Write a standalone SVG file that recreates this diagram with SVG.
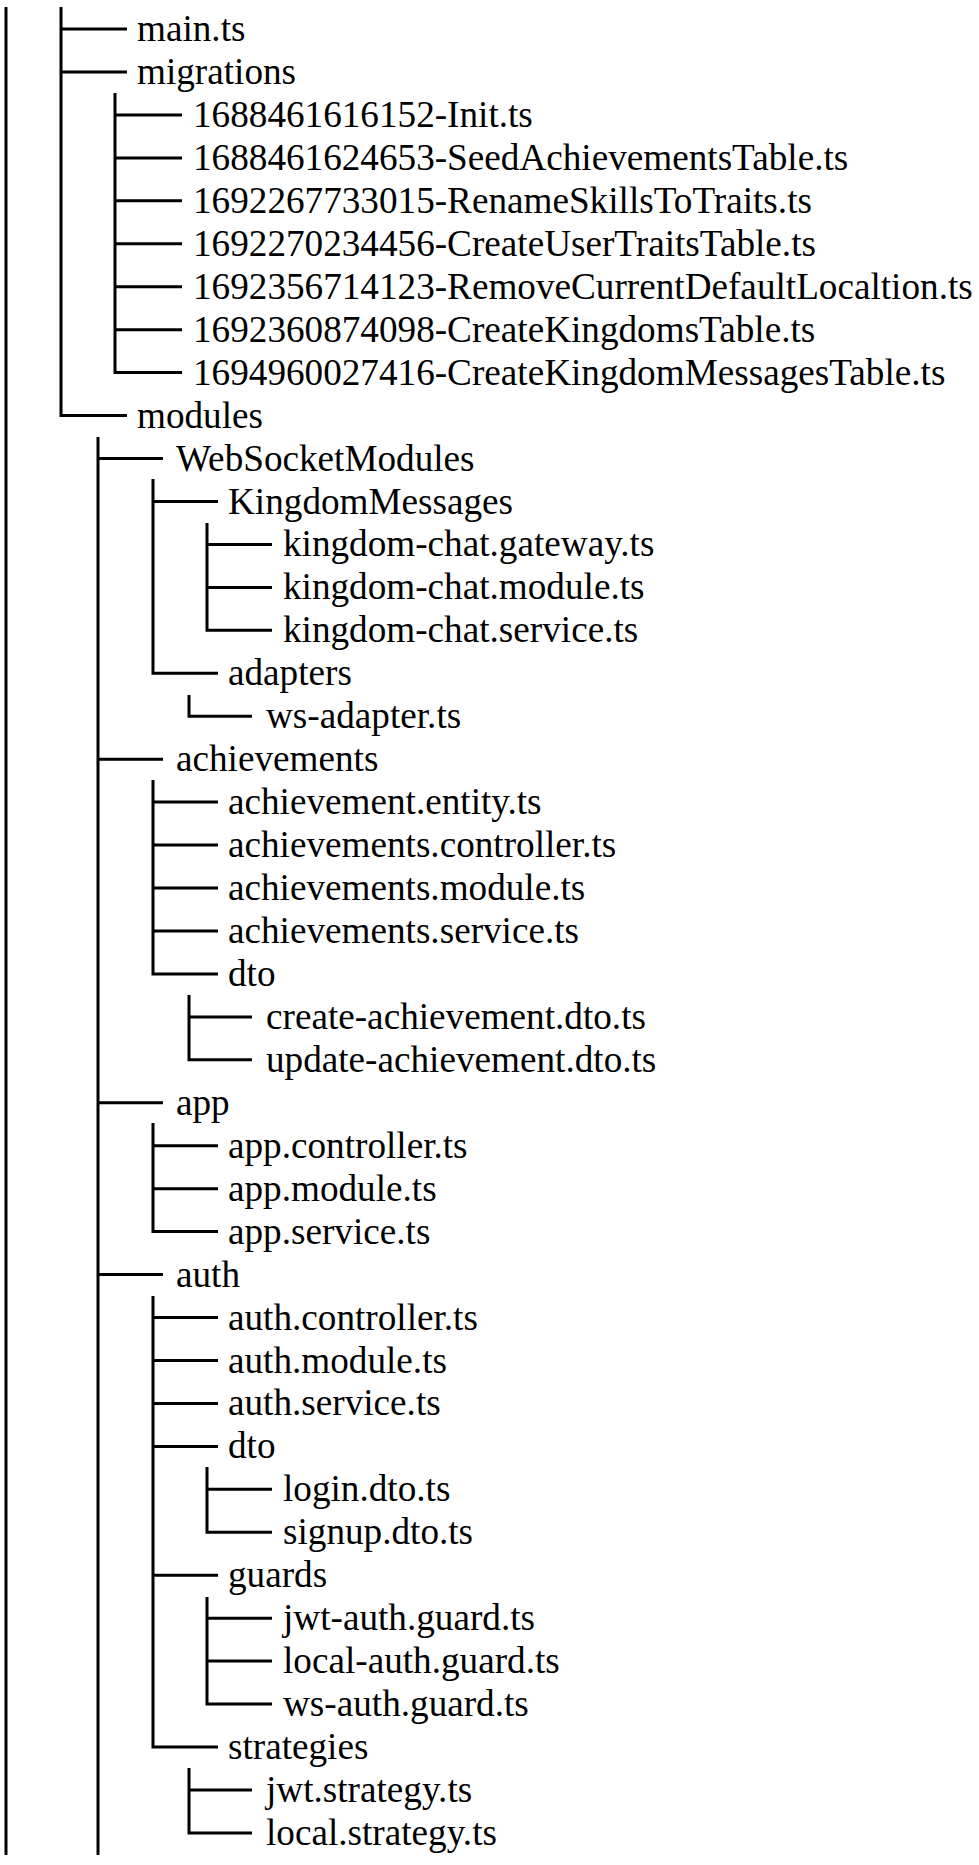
<svg xmlns="http://www.w3.org/2000/svg" width="979" height="1865" viewBox="0 0 979 1865">
  <style>
    .bg { fill: #ffffff; }
    .c { fill: none; stroke: #000000; stroke-width: 3; stroke-linejoin: miter; stroke-linecap: butt; }
    .t { font-family: 'Liberation Serif', Tinos, 'Times New Roman', Times, 'DejaVu Serif', serif; font-size: 37.2px; fill: #000000; }
  </style>
  <rect class="bg" x="0" y="0" width="979" height="1865"/>

  <!-- tree branches -->
  <g id="connectors">
    <path class="c" d="M6,7 V1855"/>
    <!-- root level -->
    <path class="c" d="M61,7 V415.5 H127 M61,29 H127 M61,72 H127"/>
    <!-- migrations -->
    <path class="c" d="M115,93 V372.6 H182 M115,114.9 H182 M115,157.9 H182 M115,200.8 H182 M115,243.8 H182 M115,286.7 H182 M115,329.7 H182"/>
    <!-- modules -->
    <path class="c" d="M98,437 V1855 M98,458.5 H163 M98,759.2 H163 M98,1102.8 H163 M98,1274.6 H163"/>
    <!-- WebSocketModules -->
    <path class="c" d="M153,479 V673.3 H218 M153,501.5 H218"/>
    <path class="c" d="M207,523 V630.3 H272 M207,544.4 H272 M207,587.4 H272"/>
    <path class="c" d="M189,695 V716.2 H252"/>
    <!-- achievements -->
    <path class="c" d="M153,780 V973.9 H218 M153,802.1 H218 M153,845.1 H218 M153,888 H218 M153,931 H218"/>
    <path class="c" d="M189,995 V1059.8 H252 M189,1016.9 H252"/>
    <!-- app -->
    <path class="c" d="M153,1123 V1231.6 H218 M153,1145.7 H218 M153,1188.7 H218"/>
    <!-- auth -->
    <path class="c" d="M153,1296 V1747 H218 M153,1317.5 H218 M153,1360.5 H218 M153,1403.4 H218 M153,1446.4 H218 M153,1575.2 H218"/>
    <path class="c" d="M207,1467 V1532.3 H272 M207,1489.3 H272"/>
    <path class="c" d="M207,1597 V1704.1 H272 M207,1618.2 H272 M207,1661.1 H272"/>
    <path class="c" d="M189,1768 V1832.9 H252 M189,1790 H252"/>
  </g>

  <g id="main-ts"><text class="t" x="137" y="41">main.ts</text></g>
  <g id="migrations"><text class="t" x="137" y="84">migrations</text></g>
  <g id="mig-init"><text class="t" x="193" y="126.9">1688461616152-Init.ts</text></g>
  <g id="mig-seed-achievements"><text class="t" x="193" y="169.9">1688461624653-SeedAchievementsTable.ts</text></g>
  <g id="mig-rename-skills"><text class="t" x="193" y="212.8">1692267733015-RenameSkillsToTraits.ts</text></g>
  <g id="mig-user-traits"><text class="t" x="193" y="255.8">1692270234456-CreateUserTraitsTable.ts</text></g>
  <g id="mig-remove-location"><text class="t" x="193" y="298.7">1692356714123-RemoveCurrentDefaultLocaltion.ts</text></g>
  <g id="mig-kingdoms"><text class="t" x="193" y="341.7">1692360874098-CreateKingdomsTable.ts</text></g>
  <g id="mig-kingdom-messages"><text class="t" x="193" y="384.6">1694960027416-CreateKingdomMessagesTable.ts</text></g>
  <g id="modules"><text class="t" x="137" y="427.6">modules</text></g>

  <g id="websocket-modules"><text class="t" x="176" y="470.5">WebSocketModules</text></g>
  <g id="kingdom-messages"><text class="t" x="228" y="513.5">KingdomMessages</text></g>
  <g id="kingdom-chat-gateway"><text class="t" x="283" y="556.4">kingdom-chat.gateway.ts</text></g>
  <g id="kingdom-chat-module"><text class="t" x="283" y="599.4">kingdom-chat.module.ts</text></g>
  <g id="kingdom-chat-service"><text class="t" x="283" y="642.3">kingdom-chat.service.ts</text></g>
  <g id="adapters"><text class="t" x="228" y="685.3">adapters</text></g>
  <g id="ws-adapter"><text class="t" x="266" y="728.2">ws-adapter.ts</text></g>

  <g id="achievements"><text class="t" x="176" y="771.2">achievements</text></g>
  <g id="achievement-entity"><text class="t" x="228" y="814.1">achievement.entity.ts</text></g>
  <g id="achievements-controller"><text class="t" x="228" y="857.1">achievements.controller.ts</text></g>
  <g id="achievements-module"><text class="t" x="228" y="900">achievements.module.ts</text></g>
  <g id="achievements-service"><text class="t" x="228" y="943">achievements.service.ts</text></g>
  <g id="achievements-dto"><text class="t" x="228" y="985.9">dto</text></g>
  <g id="create-achievement-dto"><text class="t" x="266" y="1028.9">create-achievement.dto.ts</text></g>
  <g id="update-achievement-dto"><text class="t" x="266" y="1071.8">update-achievement.dto.ts</text></g>

  <g id="app"><text class="t" x="176" y="1114.8">app</text></g>
  <g id="app-controller"><text class="t" x="228" y="1157.7">app.controller.ts</text></g>
  <g id="app-module"><text class="t" x="228" y="1200.7">app.module.ts</text></g>
  <g id="app-service"><text class="t" x="228" y="1243.6">app.service.ts</text></g>

  <g id="auth"><text class="t" x="176" y="1286.6">auth</text></g>
  <g id="auth-controller"><text class="t" x="228" y="1329.5">auth.controller.ts</text></g>
  <g id="auth-module"><text class="t" x="228" y="1372.5">auth.module.ts</text></g>
  <g id="auth-service"><text class="t" x="228" y="1415.4">auth.service.ts</text></g>
  <g id="auth-dto"><text class="t" x="228" y="1458.4">dto</text></g>
  <g id="login-dto"><text class="t" x="283" y="1501.3">login.dto.ts</text></g>
  <g id="signup-dto"><text class="t" x="283" y="1544.3">signup.dto.ts</text></g>
  <g id="guards"><text class="t" x="228" y="1587.2">guards</text></g>
  <g id="jwt-auth-guard"><text class="t" x="283" y="1630.2">jwt-auth.guard.ts</text></g>
  <g id="local-auth-guard"><text class="t" x="283" y="1673.1">local-auth.guard.ts</text></g>
  <g id="ws-auth-guard"><text class="t" x="283" y="1716.1">ws-auth.guard.ts</text></g>
  <g id="strategies"><text class="t" x="228" y="1759">strategies</text></g>
  <g id="jwt-strategy"><text class="t" x="266" y="1802">jwt.strategy.ts</text></g>
  <g id="local-strategy"><text class="t" x="266" y="1844.9">local.strategy.ts</text></g>
</svg>
